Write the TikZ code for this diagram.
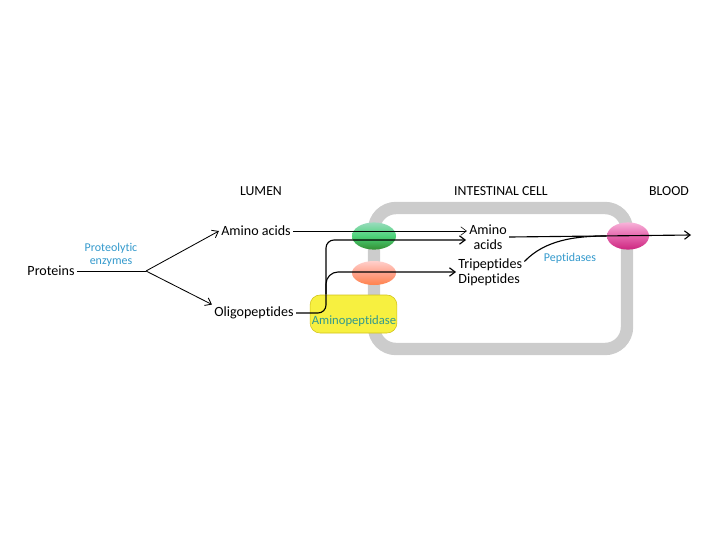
\documentclass[tikz,border=0pt]{standalone}
\usepackage{fontspec}
\setmainfont{Carlito}[Ligatures=NoCommon]
\usepackage{tikz}
\usetikzlibrary{arrows.meta,calc,positioning,shapes.geometric}
\definecolor{enzblue}{rgb}{0.2,0.6,0.8}
\definecolor{wallgray}{rgb}{0.8,0.8,0.8}
\definecolor{boxyellow}{rgb}{0.97,0.94,0.25}
\definecolor{boxedge}{rgb}{0.82,0.76,0.1}
\definecolor{amintext}{rgb}{0.2,0.6,0.55}
\definecolor{pinktop}{rgb}{0.97,0.7,0.85}
\definecolor{pinkmid}{rgb}{0.9,0.4,0.68}
\definecolor{pinkbot}{rgb}{0.8,0.15,0.5}

\begin{document}
\begin{tikzpicture}[x=0.025cm,y=-0.025cm,
    lbl/.style={font=\fontsize{10}{11}\selectfont, inner sep=1.5pt},
    head/.style={font=\fontsize{9.8}{11}\selectfont},
    enz/.style={font=\fontsize{8.5}{9.5}\selectfont, text=enzblue, align=center},
    carrier/.style={ellipse, minimum width=1.1cm, minimum height=0.68cm, inner sep=0pt},
    barb/.style={-{Straight Barb[length=4pt,width=6pt]}}]
        \useasboundingbox (0,0) rectangle (720,540);
        % Cell wall
        \draw[wallgray, line width=8.8pt, rounded corners=0.55cm] (374,208) rectangle (627,349);
        % Headings
        \node[head] (lumen) at (261,191) {LUMEN};
        \node[head] (cell) at (501,191) {INTESTINAL CELL};
        \node[head] (blood) at (669,191) {BLOOD};
        % Lumen side
        \node[lbl] (proteins) at (51,271) {Proteins};
        \coordinate (split) at (146,271);
        \node[enz] (protenz) at (111,255) {Proteolytic\\enzymes};
        \node[lbl] (aa) at (256,231) {Amino acids};
        \node[lbl] (oligo) at (254,313) {Oligopeptides};
        % Membrane transporters
        \node[carrier, top color=green!30!teal!40, bottom color=green!45!black!80, middle color=green!50!teal!70] (greencar) at (374,236) {};
        \node[carrier, top color=orange!15!red!20, bottom color=orange!60!red!70, middle color=orange!40!red!45, minimum height=0.6cm] (salmcar) at (374,273) {};
        \node[carrier, top color=pinktop, bottom color=pinkbot, middle color=pinkmid, minimum width=1.05cm] (magcar) at (628,236) {};
        \node[draw=boxedge, fill=boxyellow, rounded corners=0.25cm, minimum width=2.17cm, minimum height=0.95cm] (aminbox) at (353.5,314) {};
        \node[font=\fontsize{9}{10}\selectfont, text=amintext] (aminlbl) at (354,321) {Aminopeptidase};
        % Cell side
        \node[lbl, align=center] (aacell) at (488,237) {Amino\\acids};
        \node[lbl, align=left, anchor=west] (tri) at (456,272) {Tripeptides\\Dipeptides};
        \node[enz] (pept) at (570,258) {Peptidases};
        \coordinate (fork) at (326,294);
        \coordinate (inner) at (466,240);
        \coordinate (out) at (691,235);
        % Digestion in the lumen
        \draw[thin] (proteins.east) -- (split);
        \draw[semithick, barb] (split) -- (aa.west);
        \draw[semithick, barb] (split) -- (oligo.north west);
        % Uptake into the cell
        \draw[thin, barb] (aa.east) -- (aa.east -| aacell.west);
        \draw[thick, barb, rounded corners=0.2cm] (oligo.east) -| (fork) |- (inner);
        \draw[thick, barb, rounded corners=0.3cm] (fork) |- (tri.west);
        % Into the blood
        \draw[thick, barb] (aacell.east) -- (out);
        \draw[thick] ([yshift=-4pt]tri.north east) .. controls (545,240) and (575,236) .. (magcar.west);
\end{tikzpicture}
\end{document}
